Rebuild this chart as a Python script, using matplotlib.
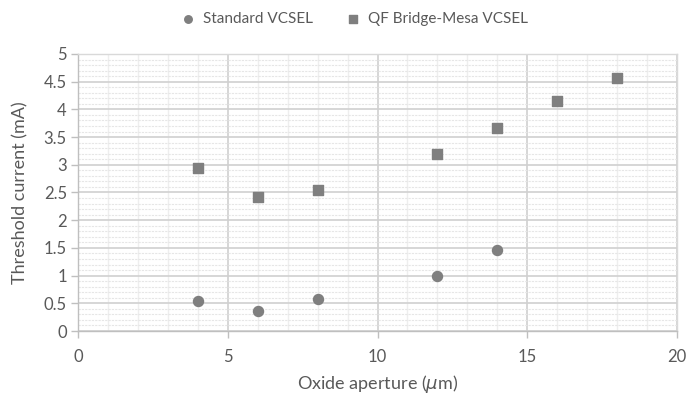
import matplotlib.pyplot as plt
from matplotlib.ticker import MultipleLocator, FuncFormatter

# data
aperture_std = [4, 6, 8, 12, 14]
ith_std = [0.55, 0.36, 0.57, 0.99, 1.46]
aperture_qf = [4, 6, 8, 12, 14, 16, 18]
ith_qf = [2.94, 2.42, 2.55, 3.19, 3.66, 4.16, 4.57]

plt.rcParams["font.family"] = ["Lato", "DejaVu Sans"]
txt = "#595959"
mk = "#7f7f7f"

fig = plt.figure(figsize=(6.87, 3.99), dpi=100)
ax = fig.add_axes([0.1135, 0.1704, 0.872, 0.6943])

ax.scatter(aperture_std, ith_std, s=52, marker="o", color=mk, zorder=3,
           label="Standard VCSEL")
ax.scatter(aperture_qf, ith_qf, s=52, marker="s", color=mk, zorder=3,
           label="QF Bridge-Mesa VCSEL")

ax.set_xlim(0, 20)
ax.set_ylim(0, 5)
ax.xaxis.set_major_locator(MultipleLocator(5))
ax.xaxis.set_minor_locator(MultipleLocator(1))
ax.yaxis.set_major_locator(MultipleLocator(0.5))
ax.yaxis.set_minor_locator(MultipleLocator(0.1))
ax.yaxis.set_major_formatter(FuncFormatter(lambda v, p: f"{v:g}"))

ax.grid(which="major", color="#d0d0d0", linewidth=1.2, zorder=1)
ax.grid(which="minor", axis="x", color="#eeeeee", linewidth=1.0, zorder=0)
ax.grid(which="minor", axis="y", color="#e6e6e6", linewidth=0.8,
        linestyle=(0, (2, 1)), zorder=0)
ax.set_axisbelow(True)

for s in ax.spines.values():
    s.set_color("#d9d9d9")
    s.set_linewidth(1.0)
ax.spines["bottom"].set_color("#bfbfbf")
ax.spines["left"].set_color("#bfbfbf")

ax.tick_params(which="major", colors="#bfbfbf", length=5, width=1.0,
               labelcolor=txt, labelsize=12)
ax.tick_params(which="minor", length=0)
ax.tick_params(axis="x", pad=8)
ax.tick_params(axis="y", pad=3)

ax.set_xlabel(r"Oxide aperture ($\mu$m)", color=txt, fontsize=13, labelpad=6)
ax.set_ylabel("Threshold current (mA)", color=txt, fontsize=13, labelpad=11)

leg = fig.legend(loc="upper center", bbox_to_anchor=(0.51, 1.005), ncol=2,
                 frameon=False, fontsize=11, markerscale=0.75,
                 handletextpad=0.0, columnspacing=1.6, labelcolor=txt)

fig.savefig("out.png", dpi=100)
